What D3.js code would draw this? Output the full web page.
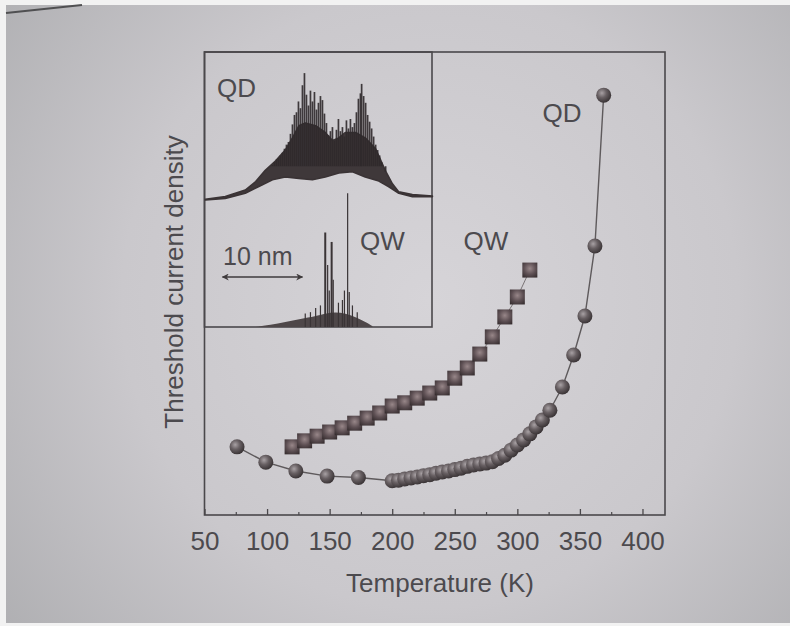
<!DOCTYPE html>
<html>
<head>
<meta charset="utf-8">
<script src="https://cdn.jsdelivr.net/npm/d3@7"></script>
<style>
  html, body { margin: 0; padding: 0; background: #ffffff; }
  svg { display: block; }
</style>
</head>
<body>
<svg id="chart" width="790" height="626"></svg>
<script>
// Threshold current density against temperature for a quantum-dot (QD)
// and a quantum-well (QW) laser, with their emission spectra in an inset.

// ---- main panel data (arbitrary current-density units) ----
const tempQD = [76, 99, 123, 148, 173,
  200, 205, 210, 215, 220, 225, 230, 235, 240, 245, 250, 255, 260, 265, 270,
  275, 280, 285, 290, 295, 300, 305, 310, 315, 320,
  326, 336, 345, 354, 362, 369];
const jthQD = [14.9, 11.6, 9.7, 8.6, 8.3,
  7.6, 7.7, 8.0, 8.2, 8.4, 8.7, 8.9, 9.2, 9.5, 9.7, 10.0, 10.3, 10.7, 11.0, 11.2,
  11.4, 11.7, 12.4, 13.1, 14.2, 15.3, 16.4, 17.7, 19.2, 20.7,
  22.8, 27.8, 34.7, 43.1, 58.2, 90.7];

const tempQW = [120, 130, 140, 150, 160, 170, 180, 190, 200, 210,
  220, 230, 240, 250, 260, 270, 280, 290, 300, 310];
const jthQW = [14.9, 16.2, 17.2, 18.1, 19.0, 20.0, 21.1, 22.2, 23.7, 24.4,
  25.4, 26.5, 27.6, 29.7, 31.9, 34.9, 38.6, 42.9, 47.2, 53.0];

const xTicks = [50, 100, 150, 200, 250, 300, 350, 400];
const xMinorTicks = [75, 125, 175, 225, 275, 325, 375];

// ---- inset data: wavelength offset (nm) and normalised intensity ----
// QD: noisy broad band (lower / upper edges) plus individual dot lines
const qdLowNm = [0.1, 2.6, 5.1, 6.8, 8.5, 10.1, 11.8, 13.5, 15.1, 16.8, 18.5, 20.1, 21.8, 23.0, 24.3, 26.0, 28.5];
const qdLowI  = [0.0, 0.012, 0.05, 0.10, 0.15, 0.17, 0.16, 0.15, 0.17, 0.20, 0.21, 0.17, 0.14, 0.10, 0.05, 0.025, 0.025];
const qdHighNm = [0.1, 2.6, 5.1, 6.4, 7.6, 8.9, 10.1, 11.0, 11.8, 12.6, 13.9, 15.1, 16.0, 16.8, 17.6, 18.9, 20.1, 21.4, 22.6, 23.5, 24.3, 26.0, 28.5];
const qdHighI  = [0.005, 0.025, 0.074, 0.136, 0.22, 0.29, 0.37, 0.46, 0.55, 0.57, 0.55, 0.50, 0.44, 0.46, 0.50, 0.50, 0.46, 0.38, 0.22, 0.12, 0.06, 0.04, 0.03];
const qdLineNm = [8.5, 8.75, 9.0, 9.25, 9.5, 9.75, 10.0, 10.25, 10.5, 10.75,
  11.0, 11.25, 11.5, 11.75, 12.0, 12.25, 12.5, 12.75, 13.0, 13.25,
  13.5, 13.75, 14.0, 14.25, 14.5, 14.75, 15.0, 15.25, 15.5, 15.75,
  16.0, 16.25, 16.5, 16.75, 17.0, 17.25, 17.5, 17.75, 18.0, 18.25,
  18.5, 18.75, 19.0, 19.25, 19.5, 19.65, 19.9, 20.15, 20.4, 20.65,
  20.9, 21.15, 21.4, 21.65, 21.9, 22.15, 22.4, 22.65];
const qdLineI = [0.26, 0.28, 0.30, 0.31, 0.33, 0.35, 0.38, 0.41, 0.43, 0.49,
  0.56, 0.63, 0.65, 0.73, 0.68, 0.85, 0.94, 0.78, 0.70, 0.81,
  0.73, 0.80, 0.67, 0.72, 0.77, 0.74, 0.64, 0.57, 0.48, 0.51,
  0.54, 0.44, 0.52, 0.60, 0.51, 0.54, 0.47, 0.59, 0.53, 0.60,
  0.54, 0.57, 0.65, 0.75, 0.79, 0.86, 0.77, 0.72, 0.63, 0.58,
  0.53, 0.47, 0.41, 0.37, 0.33, 0.28, 0.25, 0.21];

// QW: narrow background hump and a few strong modes
const qwBodyNm = [6.4, 8.25, 10.1, 12.0, 13.9, 15.1, 16.4, 17.6, 18.9, 20.1, 21.0];
const qwBodyI  = [0.0, 0.015, 0.037, 0.06, 0.08, 0.10, 0.11, 0.10, 0.074, 0.037, 0.007];
const qwLineNm = [12.6, 13.25, 13.9, 14.5, 15.1, 15.4, 15.6, 15.9, 16.1, 16.75, 17.25, 17.5, 17.9, 18.1, 18.5, 19.1];
const qwLineI  = [0.10, 0.11, 0.14, 0.16, 0.70, 0.46, 0.27, 0.63, 0.35, 0.18, 0.20, 0.27, 0.99, 0.26, 0.16, 0.11];
const scaleBarNm = [2.25, 12.25];   // "10 nm" bar

// ---- drawing ----
const svg = d3.select("#chart");
const W = 790, H = 626;
const FONT = "'Liberation Sans', Arial, Helvetica, sans-serif";
const INK = "#4c4a4e";

const defs = svg.append("defs");
const bg = defs.append("radialGradient").attr("id", "paper")
  .attr("gradientUnits", "userSpaceOnUse")
  .attr("cx", 430).attr("cy", 300).attr("r", 560);
bg.append("stop").attr("offset", "0%").attr("stop-color", "#d6d4d8");
bg.append("stop").attr("offset", "55%").attr("stop-color", "#cac8cc");
bg.append("stop").attr("offset", "100%").attr("stop-color", "#adadb0");

const ball = defs.append("radialGradient").attr("id", "ball")
  .attr("cx", "38%").attr("cy", "36%").attr("r", "68%");
ball.append("stop").attr("offset", "0%").attr("stop-color", "#a8a1a4");
ball.append("stop").attr("offset", "45%").attr("stop-color", "#686063");
ball.append("stop").attr("offset", "100%").attr("stop-color", "#363032");

const cube = defs.append("radialGradient").attr("id", "cube")
  .attr("cx", "50%").attr("cy", "40%").attr("r", "70%");
cube.append("stop").attr("offset", "0%").attr("stop-color", "#988789");
cube.append("stop").attr("offset", "55%").attr("stop-color", "#5e5054");
cube.append("stop").attr("offset", "100%").attr("stop-color", "#382f31");

defs.append("marker").attr("id", "arrowhead")
  .attr("viewBox", "0 0 10 10").attr("refX", 9).attr("refY", 5)
  .attr("markerWidth", 9).attr("markerHeight", 7)
  .attr("markerUnits", "userSpaceOnUse")
  .attr("orient", "auto-start-reverse")
  .append("path").attr("d", "M0,0 L10,5 L0,10 L3,5 Z").attr("fill", "#3e3a3c");

// paper
svg.append("rect").attr("width", W).attr("height", H).attr("fill", "#f2f2f2");
svg.append("rect").attr("x", 6).attr("y", 5).attr("width", W - 6).attr("height", H - 8)
  .attr("fill", "url(#paper)");
svg.append("line").attr("x1", 6).attr("y1", 13).attr("x2", 82).attr("y2", 5)
  .attr("stroke", "#505052").attr("stroke-width", 2);

const plot = { left: 204.5, right: 665, top: 52, bottom: 515 };
const x = d3.scaleLinear().domain([50, 418]).range([plot.left, plot.right]);
const y = d3.scaleLinear().domain([0, 100]).range([516, 52]);

// frame
svg.append("rect")
  .attr("x", plot.left).attr("y", plot.top)
  .attr("width", plot.right - plot.left).attr("height", plot.bottom - plot.top)
  .attr("fill", "none").attr("stroke", "#4a484b").attr("stroke-width", 1.6);

// x axis: major ticks with labels, minor ticks without
const gx = svg.append("g").attr("transform", `translate(0,${plot.bottom})`)
  .call(d3.axisBottom(x).tickValues(xTicks).tickSizeInner(-6).tickSizeOuter(0)
    .tickPadding(17).tickFormat(d3.format("d")));
gx.select(".domain").remove();
gx.selectAll(".tick line").attr("stroke", "#4a484b").attr("stroke-width", 1.3);
gx.selectAll(".tick text").attr("fill", INK).attr("font-family", FONT)
  .attr("font-size", 26);

const gxm = svg.append("g").attr("transform", `translate(0,${plot.bottom})`)
  .call(d3.axisBottom(x).tickValues(xMinorTicks).tickSizeInner(-3).tickSizeOuter(0)
    .tickFormat(""));
gxm.select(".domain").remove();
gxm.selectAll(".tick line").attr("stroke", "#4a484b").attr("stroke-width", 1.2);

// axis titles
svg.append("text").attr("x", 440).attr("y", 592).attr("text-anchor", "middle")
  .attr("font-family", FONT).attr("font-size", 26).attr("fill", INK)
  .text("Temperature (K)");
svg.append("text").attr("transform", "translate(183,282) rotate(-90)")
  .attr("text-anchor", "middle")
  .attr("font-family", FONT).attr("font-size", 26).attr("fill", INK)
  .text("Threshold current density");

// QW series: thin connecting line, then square markers
const qwPts = tempQW.map((t, i) => [t, jthQW[i]]);
const qdPts = tempQD.map((t, i) => [t, jthQD[i]]);
const line = d3.line().x(d => x(d[0])).y(d => y(d[1]));

svg.append("path").attr("d", line(qwPts)).attr("fill", "none")
  .attr("stroke", "#7a7476").attr("stroke-width", 1);
const SQ = 15;
svg.append("g").selectAll("rect").data(qwPts).join("rect")
  .attr("x", d => x(d[0]) - SQ / 2).attr("y", d => y(d[1]) - SQ / 2)
  .attr("width", SQ).attr("height", SQ)
  .attr("fill", "url(#cube)");

// QD series: line with sphere markers
svg.append("path").attr("d", line(qdPts)).attr("fill", "none")
  .attr("stroke", "#5e5a5c").attr("stroke-width", 1.4);
svg.append("g").selectAll("circle").data(qdPts).join("circle")
  .attr("cx", d => x(d[0])).attr("cy", d => y(d[1])).attr("r", 7.5)
  .attr("fill", "url(#ball)");

// series labels
svg.append("text").attr("x", 562).attr("y", 122).attr("text-anchor", "middle")
  .attr("font-family", FONT).attr("font-size", 26).attr("fill", INK).text("QD");
svg.append("text").attr("x", 486).attr("y", 250).attr("text-anchor", "middle")
  .attr("font-family", FONT).attr("font-size", 26).attr("fill", INK).text("QW");

// ---- inset: emission spectra ----
const inset = { left: 204.5, right: 432, top: 52, bottom: 327 };
const ix = d3.scaleLinear().domain([0, 28.45]).range([inset.left, inset.right]);
const qdY = d3.scaleLinear().domain([0, 1]).range([200, 65]);
const qwY = d3.scaleLinear().domain([0, 1]).range([inset.bottom, inset.bottom - 135]);

const g = svg.append("g");
g.append("rect")
  .attr("x", inset.left).attr("y", inset.top)
  .attr("width", inset.right - inset.left).attr("height", inset.bottom - inset.top)
  .attr("fill", "none").attr("stroke", "#4a484b").attr("stroke-width", 1.6);

// QD band
const bandPts = qdHighNm.map((n, i) => [ix(n), qdY(qdHighI[i])])
  .concat(qdLowNm.map((n, i) => [ix(n), qdY(qdLowI[i])]).reverse());
g.append("path")
  .attr("d", d3.line().curve(d3.curveLinearClosed)(bandPts))
  .attr("fill", "#3f383a").attr("stroke", "#3a3335").attr("stroke-width", 1.6)
  .attr("stroke-linejoin", "round");
// QD individual lines
g.append("g").selectAll("line").data(qdLineNm).join("line")
  .attr("x1", d => ix(d)).attr("x2", d => ix(d))
  .attr("y1", qdY(0.25)).attr("y2", (d, i) => qdY(qdLineI[i]))
  .attr("stroke", "#2f292b").attr("stroke-width", 1.7).attr("stroke-opacity", 0.9);

// QW hump and modes
const qwArea = d3.area().curve(d3.curveBasis)
  .x((d, i) => ix(qwBodyNm[i])).y0(qwY(0)).y1((d, i) => qwY(qwBodyI[i]));
g.append("path").attr("d", qwArea(qwBodyNm)).attr("fill", "#4e4749");
g.append("g").selectAll("line").data(qwLineNm).join("line")
  .attr("x1", d => ix(d)).attr("x2", d => ix(d))
  .attr("y1", qwY(0)).attr("y2", (d, i) => qwY(qwLineI[i]))
  .attr("stroke", "#3a3436")
  .attr("stroke-width", (d, i) => qwLineI[i] > 0.5 && qwLineI[i] < 0.9 ? 2 : 1.2);

// scale bar
g.append("line")
  .attr("x1", ix(scaleBarNm[0])).attr("x2", ix(scaleBarNm[1]))
  .attr("y1", 277).attr("y2", 277)
  .attr("stroke", "#3e3a3c").attr("stroke-width", 1.5)
  .attr("marker-start", "url(#arrowhead)").attr("marker-end", "url(#arrowhead)");
g.append("text").attr("x", 223).attr("y", 265)
  .attr("font-family", FONT).attr("font-size", 25).attr("fill", INK).text("10 nm");

g.append("text").attr("x", 217).attr("y", 97)
  .attr("font-family", FONT).attr("font-size", 26).attr("fill", INK).text("QD");
g.append("text").attr("x", 360).attr("y", 250)
  .attr("font-family", FONT).attr("font-size", 26).attr("fill", INK).text("QW");
</script>
</body>
</html>
